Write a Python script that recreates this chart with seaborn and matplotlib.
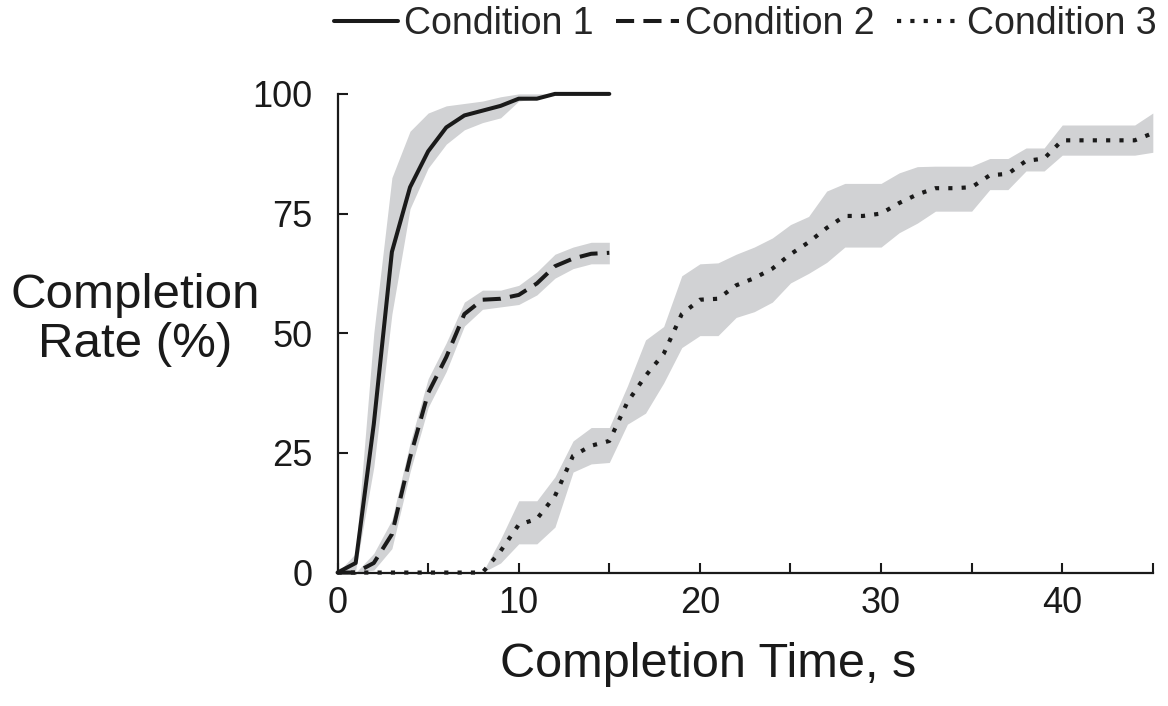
import numpy as np
import pandas as pd
import seaborn as sns
import matplotlib.pyplot as plt

# seconds sampled once per second
t_short = list(range(0, 16))
t_long = list(range(0, 46))

# Condition 1: mean and band (low/high)
c1_mean = [0, 2, 31, 67, 80.5, 88, 93, 95.5, 96.5, 97.5, 99, 99, 100, 100, 100, 100]
c1_low = [0, 0.5, 22, 54, 76, 84.5, 89.5, 92.5, 94, 95, 98.5, 99, 100, 100, 100, 100]
c1_high = [0, 4, 50, 82.5, 92.2, 96, 97.5, 98, 98.5, 99.4, 100, 100, 100, 100, 100, 100]

# Condition 2
c2_mean = [0, 0, 2, 8, 24, 37.5, 45, 54, 57, 57.2, 58, 60.4, 64, 65.6, 66.6, 66.8]
c2_low = [0, 0, 0.5, 5, 21, 34.5, 42, 51.5, 55, 55.5, 56, 58, 61.5, 63.5, 64.5, 64.5]
c2_high = [0, 0, 4, 11, 27, 40.5, 48, 56.5, 59, 59, 60, 62.8, 66.5, 68, 69, 69]

# Condition 3
c3_mean = [0, 0, 0, 0, 0, 0, 0, 0, 0, 4.5, 10, 11.2, 16, 24.4, 26.5, 27.5,
           35.6, 41.1, 45.7, 54, 57, 57.2, 60, 61.5, 63.5, 66.5, 69, 72, 74.5,
           74.5, 75, 77.2, 79, 80.3, 80.3, 80.5, 83, 83.3, 86, 86.5, 90.3, 90.3,
           90.3, 90.3, 90.3, 91.8]
c3_low = [0, 0, 0, 0, 0, 0, 0, 0, 0, 2, 6, 6, 9.5, 21, 22.7, 23,
          31, 33.3, 39.6, 47, 49.5, 49.5, 53.3, 54.5, 56.5, 60.5, 62.5, 64.8, 68,
          68, 68, 71, 73, 75.5, 75.5, 75.5, 80, 80, 83.9, 83.9, 87.2, 87.2,
          87.2, 87.2, 87.2, 87.8]
c3_high = [0, 0, 0, 0, 0, 0, 0, 0, 0, 7, 15, 15, 20, 27.5, 30.3, 30.3,
           39, 48.6, 51.4, 62, 64.5, 64.7, 66.5, 68, 69.9, 72.7, 74.4, 79.7, 81.3,
           81.3, 81.3, 83.5, 84.8, 84.9, 84.9, 84.9, 86.5, 86.5, 88.7, 88.7, 93.5, 93.5,
           93.5, 93.5, 93.5, 96]

labels = ["Condition 1", "Condition 2", "Condition 3"]


def draw_condition(ax, t, mean, low, high, label, ls, lw):
    ax.fill_between(t, low, high, color="#d1d2d4", lw=0, zorder=1)
    df = pd.DataFrame({"time": t, "rate": mean})
    sns.lineplot(data=df, x="time", y="rate", ax=ax, color="#1a1a1a",
                 linestyle=ls, linewidth=lw, label=label, zorder=3,
                 clip_on=False, dash_capstyle="butt")


def main():
    sns.set_theme(style="ticks")
    plt.rcParams["font.family"] = ["Liberation Sans", "DejaVu Sans"]

    fig = plt.figure(figsize=(11.68, 7.06), dpi=100)
    ax = fig.add_axes([0.289, 0.189, 0.698, 0.678])

    draw_condition(ax, t_short, c1_mean, c1_low, c1_high, labels[0], "-", 2.9)
    draw_condition(ax, t_short, c2_mean, c2_low, c2_high, labels[1], (0, (4.5, 2.3)), 2.9)
    draw_condition(ax, t_long, c3_mean, c3_low, c3_high, labels[2], (0, (1, 2.2)), 3.0)

    ax.set_xlim(0, 45)
    ax.set_ylim(0, 100)
    ax.set_xticks([0, 10, 20, 30, 40])
    ax.set_xticks([5, 15, 25, 35, 45], minor=True)
    ax.set_yticks([0, 25, 50, 75, 100])
    ax.tick_params(axis="both", which="both", direction="in", length=7, width=1.5,
                   color="#1a1a1a", labelsize=26, labelcolor="#1a1a1a")
    ax.tick_params(axis="x", pad=10)
    ax.tick_params(axis="y", pad=18)
    for s in ["left", "bottom"]:
        ax.spines[s].set_linewidth(1.6)
        ax.spines[s].set_color("#1a1a1a")
    sns.despine(ax=ax)

    ax.set_xlabel("Completion Time, s", fontsize=35, color="#1a1a1a")
    ax.xaxis.set_label_coords(0.454, -0.193)
    ax.xaxis.label.set_va("center")
    ax.set_ylabel("Completion\nRate (%)", fontsize=35.5, rotation=0, color="#1a1a1a",
                  linespacing=1.1)
    ax.yaxis.set_label_coords(-0.248, 0.528)
    ax.yaxis.label.set_va("center")
    ax.yaxis.label.set_ha("center")

    ax.legend(loc="center", bbox_to_anchor=(0.5, 1.146), ncol=3, frameon=False,
              fontsize=27, handlelength=1.7, handletextpad=0.15,
              columnspacing=0.6, borderaxespad=0)

    fig.savefig("out.png", dpi=100)


if __name__ == '__main__':
    main()
